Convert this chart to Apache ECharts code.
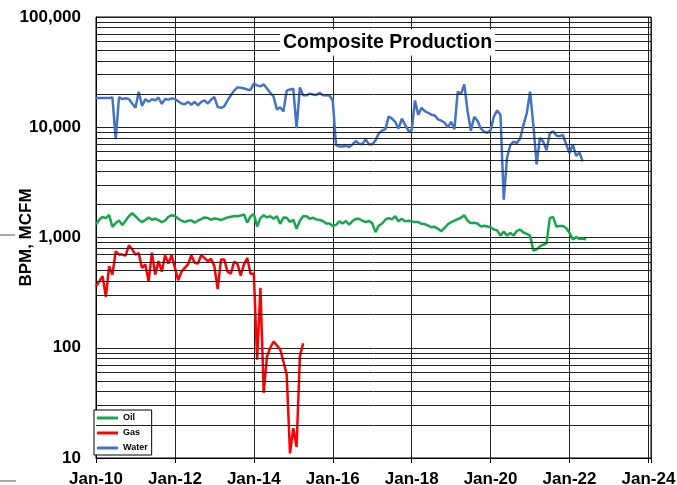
<!DOCTYPE html>
<html>
<head>
<meta charset="utf-8">
<script src="https://cdn.jsdelivr.net/npm/echarts@6/dist/echarts.min.js"></script>
<style>
  html, body { margin: 0; padding: 0; background: #fff; }
  #main { width: 677px; height: 485px; }
</style>
</head>
<body>
<div id="main"></div>
<script>
// monthly values, first month is Jan 2010
let startYear = 2010
let seriesNames = ["Oil", "Gas", "Water"]
let yTicks = [10, 100, 1000, 10000, 100000]
let xTickYears = [2010, 2012, 2014, 2016, 2018, 2020, 2022, 2024]

let oil = [1310, 1450, 1540, 1500, 1600, 1250, 1350, 1430, 1300, 1420, 1560, 1660, 1560, 1450, 1380, 1440,
  1520, 1450, 1480, 1440, 1380, 1420, 1540, 1590, 1570, 1480, 1420, 1380, 1420, 1430, 1360, 1420,
  1470, 1520, 1500, 1450, 1490, 1470, 1440, 1480, 1520, 1540, 1560, 1560, 1580, 1620, 1360, 1560,
  1630, 1260, 1500, 1590, 1520, 1560, 1480, 1560, 1330, 1520, 1510, 1380, 1450, 1200, 1420, 1560,
  1560, 1480, 1510, 1460, 1440, 1410, 1340, 1340, 1270, 1300, 1400, 1340, 1410, 1310, 1410, 1470,
  1480, 1420, 1380, 1410, 1350, 1120, 1280, 1340, 1450, 1500, 1460, 1560, 1400, 1480, 1400, 1420,
  1400, 1380, 1380, 1330, 1320, 1280, 1240, 1250, 1200, 1140, 1220, 1320, 1380, 1420, 1470, 1510,
  1590, 1420, 1350, 1360, 1340, 1260, 1280, 1260, 1240, 1180, 1160, 1040, 1130, 1040, 1100, 1040,
  1150, 1180, 1110, 1080, 1040, 760, 780, 830, 860, 880, 1500, 1540, 1260, 1270, 1270, 1220,
  1100, 960, 1010, 970, 980, 960]

let gas = [360, 400, 445, 290, 550, 460, 750, 700, 700, 685, 850, 780, 700, 720, 530, 570,
  400, 730, 460, 610, 490, 690, 580, 690, 530, 410, 490, 530, 570, 690, 590, 580,
  690, 650, 610, 640, 550, 340, 630, 630, 490, 470, 600, 580, 450, 570, 650, 470,
  470, 78, 350, 39, 83, 100, 114, 105, 97, 75, 57, 11, 18.6, 12.6, 83, 110]

let water = [18400, 18400, 18400, 18400, 18400, 18600, 7800, 18800, 18000, 18300, 18000, 16400, 15000, 21000, 15600, 18000,
  17000, 18000, 17500, 18600, 16300, 18000, 17800, 18300, 18000, 17200, 16400, 16200, 17000, 16000, 17000, 15800,
  17000, 17500, 16400, 17800, 18800, 15300, 15000, 15500, 17500, 19500, 21500, 23000, 22800, 22500, 22000, 21800,
  25000, 24000, 23500, 24500, 22500, 20500, 19000, 14500, 15200, 13900, 21500, 22000, 22300, 9800, 23000, 19500,
  19500, 20200, 19800, 19600, 20500, 19500, 19500, 19400, 17500, 6900, 6700, 6700, 6800, 6600, 7000, 7500,
  7100, 7000, 7800, 7000, 7000, 7600, 8800, 9300, 9600, 12500, 12000, 11200, 9700, 12000, 10500, 9300,
  9300, 17500, 13000, 15000, 14000, 13500, 13000, 12800, 11800, 11500, 11000, 10000, 11200, 9600, 21000, 20000,
  24500, 14000, 9300, 12400, 11500, 9800, 9100, 8900, 9400, 12500, 14200, 13000, 2200, 5300, 6900, 7400,
  7200, 7900, 10500, 13400, 21000, 10500, 4600, 8000, 7400, 6200, 8800, 9200, 8400, 8300, 8500, 7000,
  5800, 7000, 5500, 5900, 4900]

let colors = ["#14a84a", "#ff0000", "#4472c4"]

function toPoints(values){
  return values.map((v, i) => [startYear + i / 12, v])
}

// minor log grid lines 2..9 in every decade
let minorLines = []
for(let i = 0; i < yTicks.length - 1; i++){
  for(let k = 2; k <= 9; k++){
    minorLines.push({ yAxis: yTicks[i] * k })
  }
}

var myChart = echarts.init(document.getElementById('main'))

var fontFam = 'Arial, "Liberation Sans", sans-serif'

var option = {
  animation: false,
  title: {
    text: 'Composite Production',
    left: 280,
    top: 30,
    backgroundColor: '#fff',
    padding: [3, 3],
    textStyle: { fontSize: 19.5, fontWeight: 'bold', color: '#000', fontFamily: fontFam, lineHeight: 19 }
  },
  legend: {
    data: seriesNames,
    orient: 'vertical',
    left: 94,
    top: 410,
    padding: [3, 4, 2, 3],
    itemWidth: 21,
    itemHeight: 3,
    itemGap: 5,
    icon: 'rect',
    backgroundColor: '#fff',
    borderColor: '#000',
    borderWidth: 1,
    borderRadius: 0,
    textStyle: { fontSize: 9, fontWeight: 'bold', color: '#000', fontFamily: fontFam, lineHeight: 10 }
  },
  grid: {
    left: 96, right: 26, top: 17, bottom: 27,
    containLabel: false,
    outerBoundsMode: 'none',
    show: true, borderColor: '#000', borderWidth: 1
  },
  xAxis: {
    type: 'value',
    min: xTickYears[0],
    max: 2024.065,
    interval: 2,
    axisLine: { lineStyle: { color: '#000', width: 1 } },
    axisTick: { show: true, length: 5, lineStyle: { color: '#000' } },
    splitLine: { show: true, lineStyle: { color: '#222', width: 1 } },
    axisLabel: {
      margin: 13,
      fontSize: 17, fontWeight: 'bold', color: '#000', fontFamily: fontFam,
      formatter: v => Math.abs(v - Math.round(v)) < 0.01 ? 'Jan-' + String(Math.round(v)).slice(2) : ''
    }
  },
  yAxis: {
    type: 'log',
    logBase: 10,
    min: yTicks[0],
    max: yTicks[yTicks.length - 1],
    name: 'BPM, MCFM',
    nameLocation: 'middle',
    nameGap: 61,
    nameMoveOverlap: false,
    nameTextStyle: { fontSize: 17, fontWeight: 'bold', color: '#000', fontFamily: fontFam },
    axisLine: { show: true, lineStyle: { color: '#000' } },
    axisTick: { show: false },
    splitLine: { show: true, lineStyle: { color: '#222', width: 1 } },
    axisLabel: {
      margin: 15,
      fontSize: 17, fontWeight: 'bold', color: '#000', fontFamily: fontFam,
      formatter: v => Number(v).toLocaleString('en-US')
    }
  },
  graphic: [
    { type: 'line', shape: { x1: 0, y1: 235, x2: 15, y2: 235 }, style: { stroke: '#aaa', lineWidth: 2 } },
    { type: 'line', shape: { x1: 0, y1: 481, x2: 16, y2: 481 }, style: { stroke: '#aaa', lineWidth: 2 } }
  ],
  series: [
    {
      name: 'grid',
      type: 'line',
      data: [],
      z: 1,
      silent: true,
      markLine: {
        silent: true,
        symbol: 'none',
        label: { show: false },
        lineStyle: { color: '#222', width: 1, type: 'solid' },
        data: minorLines
      }
    },
    { name: seriesNames[0], type: 'line', data: toPoints(oil), showSymbol: false, z: 3,
      lineStyle: { color: colors[0], width: 2.5 }, itemStyle: { color: colors[0] } },
    { name: seriesNames[1], type: 'line', data: toPoints(gas), showSymbol: false, z: 3,
      lineStyle: { color: colors[1], width: 2.5 }, itemStyle: { color: colors[1] } },
    { name: seriesNames[2], type: 'line', data: toPoints(water), showSymbol: false, z: 3,
      lineStyle: { color: colors[2], width: 2.5 }, itemStyle: { color: colors[2] } }
  ]
}

myChart.setOption(option)
</script>
</body>
</html>
